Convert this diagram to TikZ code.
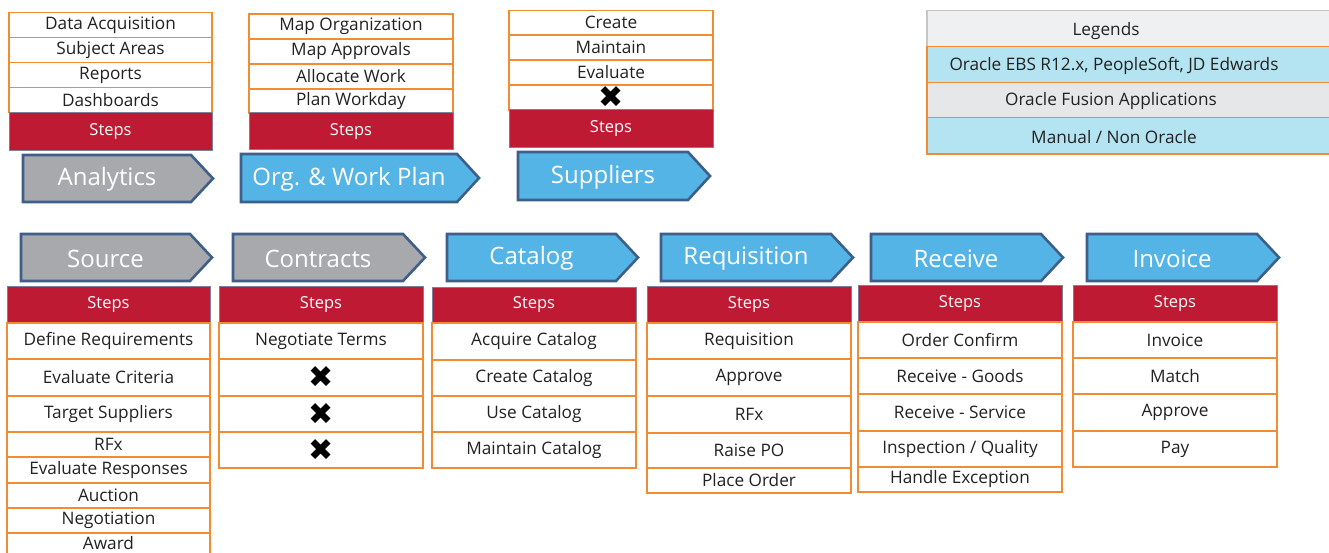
\documentclass[tikz,border=0pt]{standalone}
\usepackage{fontspec}
\setmainfont{Open Sans}
\newfontfamily\symfont{DejaVu Sans}
\definecolor{borange}{HTML}{F28C33}
\definecolor{stepred}{HTML}{BE1A34}
\definecolor{stepline}{HTML}{7E7F9A}
\definecolor{chevline}{HTML}{3E5F8A}
\definecolor{chevgray}{HTML}{A7A9AC}
\definecolor{chevblue}{HTML}{54B4E6}
\definecolor{leggray}{HTML}{EEF0F2}
\definecolor{legblue}{HTML}{B4E4F1}
\definecolor{leggray2}{HTML}{E6E7E9}
\definecolor{txt}{HTML}{222222}
\tikzset{
  cell/.style={draw=borange, line width=1.3pt, fill=white, inner sep=0pt, text=txt,
    font=\fontsize{17.2}{19}\selectfont},
  stepcell/.style={draw=stepline, line width=1pt, fill=stepred, inner sep=0pt, text=white,
    font=\fontsize{16.5}{19}\selectfont},
  chevbody/.style={draw=chevline, line width=2.6pt, line join=miter},
  chevtext/.style={text=white, inner sep=0pt, font=\fontsize{24}{27}\selectfont},
  xmark/.style={inner sep=0pt, text=black, font=\symfont\fontsize{30}{32}\selectfont},
  legtext/.style={inner sep=0pt, text=txt, font=\fontsize{17.2}{19}\selectfont},
}
% style, name, x1, y1, x2, y2, text
\newcommand\cellbox[7]{%
  \node[#1, minimum width={#5-#3}, minimum height={#6-#4}] (#2) at ({(#3+#5)/2},{(#4+#6)/2}) {#7};}
% name, x1, x2, y1, y2, fill, text
\newcommand\chev[7]{%
  \draw[chevbody, fill=#6] (#2,#4) -- ({#3-22},#4) -- (#3,{(#4+#5)/2}) -- ({#3-22},#5) -- (#2,#5) -- cycle;
  \node[chevtext] (#1) at ({(#2+#3-22)/2},{(#4+#5)/2+1}) {#7};}
\begin{document}
\begin{tikzpicture}[x=1pt,y=-1pt]
\useasboundingbox (0,0) rectangle (1329,553);
\fill[white] (0,0) rectangle (1329,553);

% ---------- Analytics ----------
\cellbox{cell}{a1}{9}{12.7}{212}{37.7}{Data Acquisition}
\cellbox{cell}{a2}{9}{37.7}{212}{62.7}{Subject Areas}
\cellbox{cell}{a3}{9}{62.7}{212}{87.7}{Reports}
\cellbox{cell}{a4}{9}{87.7}{212}{112.7}{Dashboards}
\cellbox{stepcell}{as}{9}{112.7}{212}{150.7}{Steps}
\chev{ach}{23}{213}{155}{202}{chevgray}{Analytics}

% ---------- Org & Work Plan ----------
\cellbox{cell}{o1}{249}{14}{453}{39}{Map Organization}
\cellbox{cell}{o2}{249}{39}{453}{64}{Map Approvals}
\cellbox{cell}{o3}{249}{64}{453}{89}{Allocate Work}
\cellbox{cell}{o4}{249}{89}{453}{113}{Plan Workday}
\cellbox{stepcell}{os}{249}{113}{453}{150}{Steps}
\chev{och}{241}{479}{154}{202}{chevblue}{Org. \& Work Plan}

% ---------- Suppliers ----------
\cellbox{cell}{s1}{509}{10.7}{713}{35}{Create}
\cellbox{cell}{s2}{509}{35}{713}{60}{Maintain}
\cellbox{cell}{s3}{509}{60}{713}{85}{Evaluate}
\cellbox{cell}{s4}{509}{85}{713}{110}{}
\node[xmark] (sx) at (s4.center) {✖};
\cellbox{stepcell}{ss}{509}{110}{713}{148}{Steps}
\chev{sch}{518}{710}{152}{200}{chevblue}{Suppliers}

% ---------- Legend ----------
\cellbox{cell, draw=gray!45, fill=leggray}{l1}{927}{10.7}{1333}{46.7}{}
\cellbox{cell, fill=legblue}{l2}{927}{46.7}{1333}{82.3}{}
\cellbox{cell, fill=leggray2}{l3}{927}{82.3}{1333}{117.7}{}
\cellbox{cell, fill=legblue}{l4}{927}{117.7}{1333}{154}{}
\node[legtext] (lt1) at (1106,{(10.7+46.7)/2+2}) {Legends};
\node[legtext] (lt2) at (1114,{(46.7+82.3)/2+1}) {Oracle EBS R12.x, PeopleSoft, JD Edwards};
\node[legtext] (lt3) at (1111,{(82.3+117.7)/2+1}) {Oracle Fusion Applications};
\node[legtext] (lt4) at (1114,{(117.7+154)/2+1}) {Manual / Non Oracle};

% ---------- Bottom chevrons ----------
\chev{src}{21}{212}{234}{281}{chevgray}{Source}
\chev{con}{233}{425}{234}{281}{chevgray}{Contracts}
\chev{cat}{447}{638}{234}{281}{chevblue}{Catalog}
\chev{req}{661}{853}{234}{281}{chevblue}{Requisition}
\chev{rec}{871}{1063}{234}{281}{chevblue}{Receive}
\chev{inv}{1087}{1279}{234}{281}{chevblue}{Invoice}

% ---------- Source ----------
\cellbox{stepcell}{srs}{7}{286}{210}{323}{Steps}
\cellbox{cell}{sr1}{7}{323}{210}{359}{Define Requirements}
\cellbox{cell}{sr2}{7}{359}{210}{396}{Evaluate Criteria}
\cellbox{cell}{sr3}{7}{396}{210}{432}{Target Suppliers}
\cellbox{cell}{sr4}{7}{432}{210}{457}{RFx}
\cellbox{cell}{sr5}{7}{457}{210}{483}{Evaluate Responses}
\cellbox{cell}{sr6}{7}{483}{210}{508}{Auction}
\cellbox{cell}{sr7}{7}{508}{210}{533}{Negotiation}
\cellbox{cell}{sr8}{7}{533}{210}{554}{Award}

% ---------- Contracts ----------
\cellbox{stepcell}{cns}{219}{286}{423}{323}{Steps}
\cellbox{cell}{cn1}{219}{323}{423}{359}{Negotiate Terms}
\cellbox{cell}{cn2}{219}{359}{423}{396}{}
\cellbox{cell}{cn3}{219}{396}{423}{432}{}
\cellbox{cell}{cn4}{219}{432}{423}{468}{}
\node[xmark] (cx2) at (cn2.center) {✖};
\node[xmark] (cx3) at (cn3.center) {✖};
\node[xmark] (cx4) at (cn4.center) {✖};

% ---------- Catalog ----------
\cellbox{stepcell}{cts}{432}{287}{636}{323}{Steps}
\cellbox{cell}{ct1}{432}{323}{636}{360}{Acquire Catalog}
\cellbox{cell}{ct2}{432}{360}{636}{396}{Create Catalog}
\cellbox{cell}{ct3}{432}{396}{636}{432}{Use Catalog}
\cellbox{cell}{ct4}{432}{432}{636}{468}{Maintain Catalog}

% ---------- Requisition ----------
\cellbox{stepcell}{rqs}{647}{286}{851}{323}{Steps}
\cellbox{cell}{rq1}{647}{323}{851}{359}{Requisition}
\cellbox{cell}{rq2}{647}{359}{851}{396}{Approve}
\cellbox{cell}{rq3}{647}{396}{851}{433}{RFx}
\cellbox{cell}{rq4}{647}{433}{851}{468}{Raise PO}
\cellbox{cell}{rq5}{647}{468}{851}{493}{Place Order}

% ---------- Receive ----------
\cellbox{stepcell}{rcs}{858}{285}{1062}{322}{Steps}
\cellbox{cell}{rc1}{858}{322}{1062}{358}{Order Confirm}
\cellbox{cell}{rc2}{858}{358}{1062}{394}{Receive - Goods}
\cellbox{cell}{rc3}{858}{394}{1062}{431}{Receive - Service}
\cellbox{cell}{rc4}{858}{431}{1062}{467}{Inspection / Quality}
\cellbox{cell}{rc5}{858}{467}{1062}{492}{Handle Exception}

% ---------- Invoice ----------
\cellbox{stepcell}{ivs}{1073}{285}{1277}{322}{Steps}
\cellbox{cell}{iv1}{1073}{322}{1277}{358}{Invoice}
\cellbox{cell}{iv2}{1073}{358}{1277}{394}{Match}
\cellbox{cell}{iv3}{1073}{394}{1277}{431}{Approve}
\cellbox{cell}{iv4}{1073}{431}{1277}{467}{Pay}
\end{tikzpicture}
\end{document}
